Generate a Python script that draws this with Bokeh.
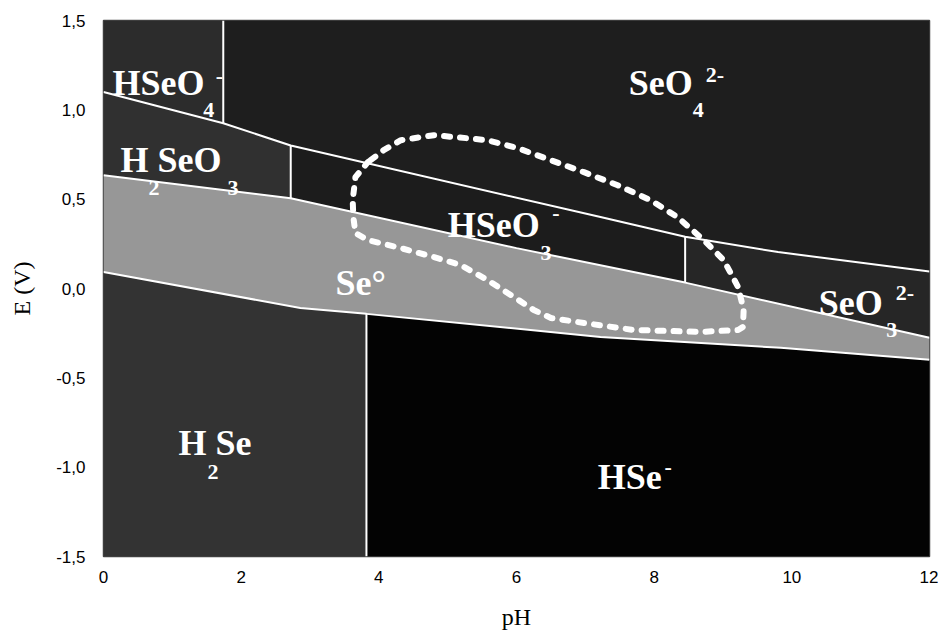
import numpy as np
from bokeh.plotting import figure
from bokeh.models import Range1d, FixedTicker, CustomJSTickFormatter
from bokeh.core.properties import value
from bokeh.embed import file_html
from bokeh.resources import INLINE

# ---- axis ticks ----
x_ticks = [0, 2, 4, 6, 8, 10, 12]
x_labels = ["0", "2", "4", "6", "8", "10", "12"]
y_ticks = [-1.5, -1.0, -0.5, 0.0, 0.5, 1.0, 1.5]
y_labels = ["-1,5", "-1,0", "-0,5", "0,0", "0,5", "1,0", "1,5"]

# ---- boundaries (pH, E in V) ----
# upper boundary: HSeO4-/H2SeO3, SeO4 2-/HSeO3-, SeO4 2-/SeO3 2-
top_ph = [0, 1.74, 2.72, 7.22, 8.45, 9.8, 12]
top_e = [1.10, 0.925, 0.80, 0.40, 0.29, 0.204, 0.095]
# upper edge of Se(0) band
se_top_ph = [0, 2.72, 6.0, 8.45, 12]
se_top_e = [0.634, 0.505, 0.226, 0.033, -0.276]
# lower edge of Se(0) band
se_bot_ph = [0, 2.86, 3.82, 7.22, 9.84, 12]
se_bot_e = [0.092, -0.109, -0.142, -0.271, -0.332, -0.399]
# vertical (acid/base) boundaries
pk_hseo4 = 1.74    # HSeO4- / SeO4 2-
pk_h2seo3 = 2.72   # H2SeO3 / HSeO3-
pk_hseo3 = 8.45    # HSeO3- / SeO3 2-
pk_h2se = 3.82     # H2Se / HSe-
ph_min, ph_max = 0, 12
e_min, e_max = -1.5, 1.5

# dashed envelope (field of natural waters)
loop_ph = [3.88, 4.07, 4.32, 4.80, 5.15, 5.58, 6.02, 6.50, 6.98, 7.47, 7.95,
           8.34, 8.72, 9.01, 9.22, 9.30, 9.29, 9.22, 8.68, 7.70, 6.98, 6.50,
           6.25, 5.96, 5.58, 5.19, 4.80, 4.32, 3.84, 3.66, 3.63, 3.62, 3.66, 3.84]
loop_e = [0.718, 0.774, 0.830, 0.858, 0.846, 0.830, 0.785, 0.718, 0.651, 0.578,
          0.494, 0.399, 0.271, 0.159, 0.008, -0.120, -0.215, -0.232, -0.243,
          -0.232, -0.193, -0.165, -0.120, -0.047, 0.047, 0.131, 0.176, 0.226,
          0.271, 0.310, 0.399, 0.494, 0.623, 0.707]

# ---- labels ----
main_text = ["HSeO", "SeO", "H SeO", "HSeO", "Se°", "SeO", "H Se", "HSe"]
main_x = [0.13, 7.63, 0.247, 5.0, 3.37, 10.39, 1.09, 7.18]
main_y = [1.15, 1.148, 0.718, 0.355, 0.031, -0.081, -0.863, -1.053]
sub_text = ["4", "4", "2", "3", "3", "3", "2"]
sub_x = [1.45, 8.56, 0.654, 1.80, 6.35, 11.37, 1.51]
sub_y = [0.997, 0.997, 0.561, 0.561, 0.198, -0.232, -1.025]
sup_text = ["-", "2-", "-", "2-", "-"]
sup_x = [1.63, 8.75, 6.52, 11.51, 8.15]
sup_y = [1.19, 1.193, 0.42, -0.025, -0.997]


def curve(ph, e, lo, hi):
    pts = sorted(set([lo, hi] + [v for v in ph if lo < v < hi]))
    return pts, [float(v) for v in np.interp(pts, ph, e)]


def region(lo, hi, lower, upper):
    if lower is None:
        lx, ly = [lo, hi], [e_min, e_min]
    else:
        lx, ly = curve(lower[0], lower[1], lo, hi)
    if upper is None:
        ux, uy = [lo, hi], [e_max, e_max]
    else:
        ux, uy = curve(upper[0], upper[1], lo, hi)
    return lx + ux[::-1], ly + uy[::-1]


TOP = (top_ph, top_e)
SET = (se_top_ph, se_top_e)
SEB = (se_bot_ph, se_bot_e)

p = figure(width=938, height=632, x_range=Range1d(ph_min, ph_max),
           y_range=Range1d(e_min, e_max), output_backend="svg",
           toolbar_location=None, min_border_left=103, min_border_right=9,
           min_border_top=20, min_border_bottom=75)
p.background_fill_color = "#202020"
p.border_fill_color = "white"
p.grid.visible = False
p.outline_line_color = "#444444"
p.outline_line_width = 1.5

regions = [
    (ph_min, pk_hseo4, TOP, None, "#2c2c2c"),     # HSeO4-
    (pk_hseo4, ph_max, TOP, None, "#1e1e1e"),     # SeO4 2-
    (ph_min, pk_h2seo3, SET, TOP, "#303030"),     # H2SeO3
    (pk_h2seo3, pk_hseo3, SET, TOP, "#1c1c1c"),   # HSeO3-
    (pk_hseo3, ph_max, SET, TOP, "#262626"),      # SeO3 2-
    (ph_min, ph_max, SEB, SET, "#979797"),        # Se(0)
    (ph_min, pk_h2se, None, SEB, "#333333"),      # H2Se
    (pk_h2se, ph_max, None, SEB, "#030303"),      # HSe-
]
for lo, hi, lower, upper, col in regions:
    xs, ys = region(lo, hi, lower, upper)
    p.patch(xs, ys, fill_color=col, line_color=None)

# boundary lines
for ph, e in (TOP, SET, SEB):
    p.line(ph, e, line_color="white", line_width=2)

vx = [pk_hseo4, pk_h2seo3, pk_hseo3, pk_h2se]
vy0 = [float(np.interp(pk_hseo4, top_ph, top_e)),
       float(np.interp(pk_h2seo3, se_top_ph, se_top_e)),
       float(np.interp(pk_hseo3, se_top_ph, se_top_e)),
       e_min]
vy1 = [e_max,
       float(np.interp(pk_h2seo3, top_ph, top_e)),
       float(np.interp(pk_hseo3, top_ph, top_e)),
       float(np.interp(pk_h2se, se_bot_ph, se_bot_e))]
p.segment(x0=vx, y0=vy0, x1=vx, y1=vy1, line_color="white", line_width=2)

# dashed envelope
p.line(loop_ph + loop_ph[:1], loop_e + loop_e[:1], line_color="white",
       line_width=6, line_dash="6 10", line_cap="round", line_join="round")

serif = value("Liberation Serif")
p.text(main_x, main_y, text=main_text, text_color="white", text_font=serif,
       text_font_style="bold", text_font_size="36px", text_baseline="alphabetic",
       text_align="left")
p.text(sub_x, sub_y, text=sub_text, text_color="white", text_font=serif,
       text_font_style="bold", text_font_size="22px", text_baseline="alphabetic",
       text_align="left")
p.text(sup_x, sup_y, text=sup_text, text_color="white", text_font=serif,
       text_font_style="bold", text_font_size="22px", text_baseline="alphabetic",
       text_align="left")

# axes
fmt_code = ("const i = tv.findIndex(t => Math.abs(t - tick) < 1e-9); "
            "return i >= 0 ? tl[i] : '';")
p.xaxis.ticker = FixedTicker(ticks=x_ticks)
p.yaxis.ticker = FixedTicker(ticks=y_ticks)
p.xaxis.formatter = CustomJSTickFormatter(args=dict(tv=x_ticks, tl=x_labels),
                                          code=fmt_code)
p.yaxis.formatter = CustomJSTickFormatter(args=dict(tv=y_ticks, tl=y_labels),
                                          code=fmt_code)
for ax in (p.xaxis[0], p.yaxis[0]):
    ax.axis_line_color = None
    ax.major_tick_line_color = None
    ax.minor_tick_line_color = None
    ax.major_label_text_font = "Liberation Sans"
    ax.major_label_text_font_size = "17px"
    ax.major_label_text_color = "black"
    ax.axis_label_text_font = "Liberation Serif"
    ax.axis_label_text_font_style = "normal"
    ax.axis_label_text_font_size = "24px"
    ax.axis_label_text_color = "black"
p.xaxis.axis_label = "pH"
p.yaxis.axis_label = "E (V)"
p.xaxis.major_label_standoff = 8
p.yaxis.major_label_standoff = 12
p.xaxis.axis_label_standoff = 18
p.yaxis.axis_label_standoff = 18

open("out.html", "w").write(file_html(p, INLINE))
